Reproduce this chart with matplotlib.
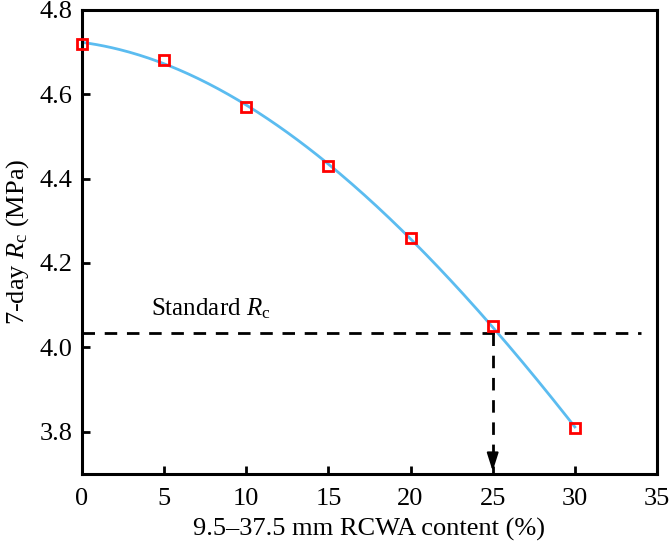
import matplotlib
matplotlib.use('Agg')
import matplotlib.pyplot as plt
import numpy as np

plt.rcParams['font.family'] = 'Liberation Serif'
plt.rcParams['mathtext.fontset'] = 'custom'
plt.rcParams['mathtext.rm'] = 'Liberation Serif'
plt.rcParams['mathtext.it'] = 'Liberation Serif:italic'

content = [0, 5, 10, 15, 20, 25, 30]
rc = [4.72, 4.68, 4.57, 4.43, 4.26, 4.05, 3.81]
standard_rc = 4.035
target = 25

fig = plt.figure(figsize=(6.69, 5.46), dpi=100)
ax = fig.add_axes([0.1226, 0.132, 0.8594, 0.85])

# smooth curve through the points
coef = np.polyfit(content, rc, 3)
xs = np.linspace(0, 30, 200)
ax.plot(xs, np.polyval(coef, xs), color='#5bbcf0', lw=2, zorder=2)
ax.plot(content, rc, 's', ms=7.5, mfc='none', mec='red', mew=2, zorder=3, clip_on=False)

# standard line and arrow
ax.plot([0, 34], [standard_rc, standard_rc], color='k', lw=2, dashes=[4.5, 3.5], zorder=1)
ax.plot([target, target], [standard_rc, 3.74], color='k', lw=2, dashes=[4.5, 3.5], zorder=1)
ax.annotate('', xy=(target, 3.7), xytext=(target, 3.735),
            arrowprops=dict(arrowstyle='-|>,head_length=1.1,head_width=0.35', color='k', lw=1.5))
ax.text(4.2, 4.075, 'Standard $R_{\\mathrm{c}}$', fontsize=18)

ax.set_xlim(0, 35)
ax.set_ylim(3.7, 4.8)
ax.set_xticks(range(0, 36, 5))
ax.set_yticks([3.8, 4.0, 4.2, 4.4, 4.6, 4.8])
ax.set_yticklabels(['3.8', '4.0', '4.2', '4.4', '4.6', '4.8'])
ax.tick_params(direction='in', length=6, width=2, labelsize=19, pad=7)
ax.tick_params(axis='x', pad=10)
for s in ax.spines.values():
    s.set_linewidth(2.2)
ax.set_xlabel('9.5–37.5 mm RCWA content (%)', fontsize=19, labelpad=6)
ax.set_ylabel('7-day $R_{\\mathrm{c}}$ (MPa)', fontsize=19, labelpad=6)

fig.savefig('out.png', dpi=100)
